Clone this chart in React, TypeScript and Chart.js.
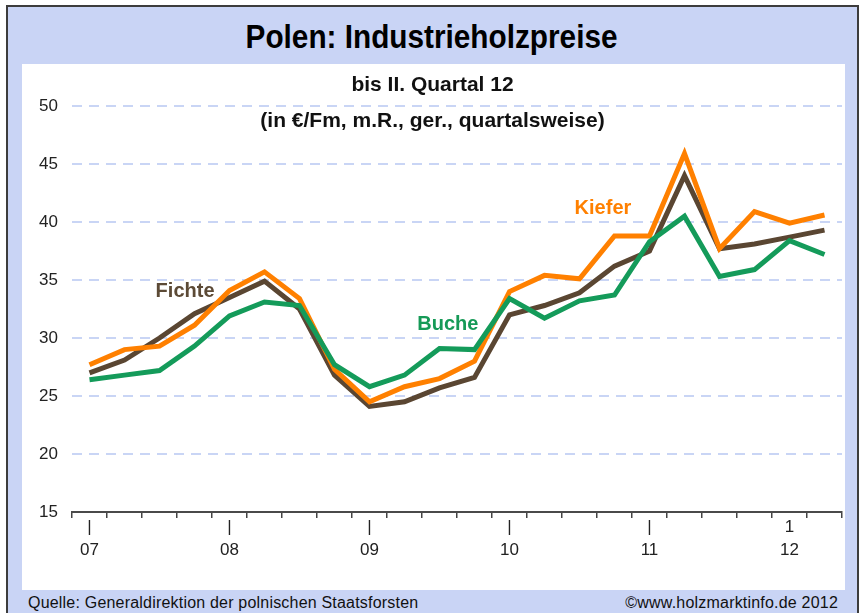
import React, { useEffect, useRef } from "react";
import { Chart, registerables } from "chart.js";

Chart.register(...registerables);

const quarters = [
  "07 I", "07 II", "07 III", "07 IV",
  "08 I", "08 II", "08 III", "08 IV",
  "09 I", "09 II", "09 III", "09 IV",
  "10 I", "10 II", "10 III", "10 IV",
  "11 I", "11 II", "11 III", "11 IV",
  "12 I", "12 II",
];
const kiefer = [27.7, 29.0, 29.3, 31.1, 34.1, 35.7, 33.4, 27.3, 24.5, 25.8, 26.5, 28.0, 34.0, 35.4, 35.1, 38.8, 38.8, 45.9, 37.7, 40.9, 39.9, 40.6];
const fichte = [27.0, 28.1, 30.0, 32.1, 33.5, 34.9, 32.5, 26.8, 24.1, 24.5, 25.7, 26.6, 32.0, 32.8, 33.9, 36.2, 37.5, 44.0, 37.7, 38.1, 38.7, 39.3];
const buche = [26.4, 26.8, 27.2, 29.3, 31.9, 33.1, 32.8, 27.7, 25.8, 26.8, 29.1, 29.0, 33.4, 31.7, 33.2, 33.7, 38.3, 40.5, 35.3, 35.9, 38.4, 37.2];
const yearLabels = ["07", "08", "09", "10", "11", "12"];
const yearMarks = ["|", "|", "|", "|", "|", "1"];

const title = "Polen: Industrieholzpreise";
const subtitle1 = "bis II. Quartal 12";
const subtitle2 = "(in €/Fm, m.R., ger., quartalsweise)";
const sourceText = "Quelle: Generaldirektion der polnischen Staatsforsten";
const copyrightText = "©www.holzmarktinfo.de 2012";

// series label anchors (category index, value)
const seriesLabels = [
  { text: "Fichte", x: 2.73, y: 34.05, color: "#5c4a36" },
  { text: "Buche", x: 10.24, y: 31.2, color: "#169a57" },
  { text: "Kiefer", x: 14.67, y: 41.2, color: "#ff8000" },
];

const COLORS = { kiefer: "#ff8000", fichte: "#5a4632", buche: "#149b5a" };
const FONT = "'Liberation Sans', Arial, sans-serif";

const textPlugin = {
  id: "texts",
  afterDatasetsDraw(chart: any) {
    const { ctx } = chart;
    const xs = chart.scales.x;
    const ys = chart.scales.y;
    ctx.save();
    ctx.textAlign = "center";
    ctx.textBaseline = "middle";
    ctx.fillStyle = "#111";
    ctx.font = `bold 21px ${FONT}`;
    ctx.fillText(subtitle1, chart.width / 2 - 1, 21);
    ctx.fillText(subtitle2, chart.width / 2 - 1, 57);
    ctx.font = `bold 20px ${FONT}`;
    for (const l of seriesLabels) {
      ctx.fillStyle = l.color;
      ctx.fillText(l.text, xs.getPixelForValue(l.x), ys.getPixelForValue(l.y));
    }
    ctx.restore();
  },
};

export default function App() {
  const ref = useRef<HTMLCanvasElement>(null);
  useEffect(() => {
    if (!ref.current) return;
    const chart = new Chart(ref.current, {
      type: "line",
      data: {
        labels: quarters,
        datasets: [
          { label: "Buche", data: buche, borderColor: COLORS.buche },
          { label: "Kiefer", data: kiefer, borderColor: COLORS.kiefer },
          { label: "Fichte", data: fichte, borderColor: COLORS.fichte },
        ].map((d) => ({ ...d, borderWidth: 5, pointRadius: 0, tension: 0, fill: false })),
      },
      options: {
        animation: false,
        responsive: false,
        maintainAspectRatio: false,
        layout: { padding: { top: 42, right: 3, left: 0, bottom: 0 } },
        plugins: { legend: { display: false }, tooltip: { enabled: false } },
        scales: {
          x: {
            type: "category",
            offset: true,
            grid: { offset: true, drawOnChartArea: false, drawTicks: true, tickLength: 6, color: "#444", lineWidth: 1.5 },
            border: { display: true, color: "#4a4a4a", width: 2 },
            ticks: {
              autoSkip: false,
              maxRotation: 0,
              minRotation: 0,
              padding: -2,
              color: "#222",
              font: { family: FONT, size: 17, lineHeight: 1.35 },
              callback: (_v: any, i: number) => {
                if (i % 4 !== 0) return "";
                const k = i / 4;
                return [yearMarks[k], yearLabels[k]];
              },
            },
            afterFit: (s: any) => { s.height = 78; },
          },
          y: {
            min: 15,
            max: 50,
            ticks: { stepSize: 5, padding: 14, color: "#222", font: { family: FONT, size: 17 } },
            grid: {
              drawTicks: false,
              lineWidth: 2,
              color: (c: any) => (c.tick && c.tick.value === 15 ? "rgba(0,0,0,0)" : "#c9d5f5"),
            },
            border: { display: false, dash: [10, 7] },
            afterFit: (s: any) => { s.width = 50; },
          },
        },
      },
      plugins: [textPlugin],
    });
    return () => chart.destroy();
  }, []);

  return (
    <div style={{ position: "fixed", left: 0, top: 0, width: 863, height: 613, background: "#fff", overflow: "hidden" }}>
      <div style={{ position: "absolute", left: 6, top: 5, width: 853, height: 640, boxSizing: "border-box", border: "2px solid #3c3c3c", background: "#c9d4f5" }} />
      <div style={{ position: "absolute", left: 0, top: 17, width: 863, textAlign: "center", lineHeight: "40px" }}>
        <span style={{ display: "inline-block", font: `bold 34px ${FONT}`, color: "#000", transform: "scaleX(0.875)", transformOrigin: "center", whiteSpace: "nowrap" }}>{title}</span>
      </div>
      <div style={{ position: "absolute", left: 22, top: 64, width: 823, height: 526, background: "#fff" }}>
        <canvas ref={ref} width={823} height={526} style={{ display: "block" }} />
      </div>
      <div style={{ position: "absolute", left: 28, top: 594, font: `16px ${FONT}`, letterSpacing: "0.2px", lineHeight: "18px", color: "#111", whiteSpace: "nowrap" }}>{sourceText}</div>
      <div style={{ position: "absolute", right: 863 - 838, top: 594, font: `16px ${FONT}`, letterSpacing: "0.2px", lineHeight: "18px", color: "#111", whiteSpace: "nowrap" }}>{copyrightText}</div>
    </div>
  );
}
